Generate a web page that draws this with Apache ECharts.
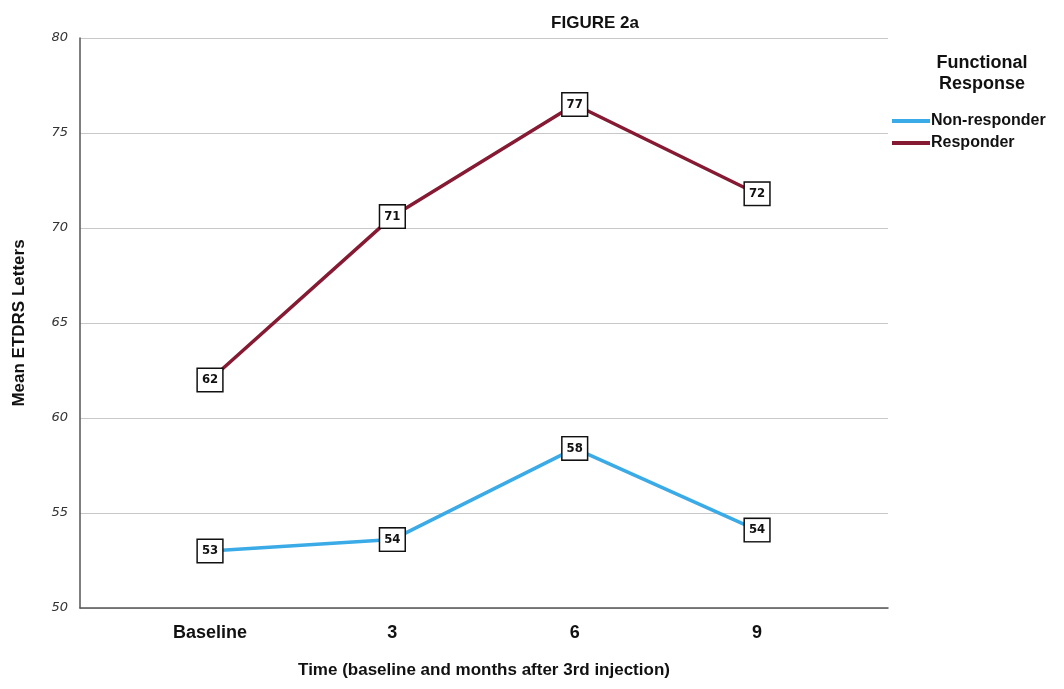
<!DOCTYPE html>
<html>
<head>
<meta charset="utf-8">
<script src="https://cdn.jsdelivr.net/npm/echarts@6/dist/echarts.min.js"></script>
<style>html,body{margin:0;padding:0;background:#fff}#c{width:1064px;height:689px}</style>
</head>
<body>
<div id="c"></div>
<script>
var categories = ['Baseline', '3', '6', '9'];
var nonResponder = [53.0, 53.6, 58.4, 54.1];
var responder = [62.0, 70.6, 76.5, 71.8];
var yTicks = [50, 55, 60, 65, 70, 75, 80];

function pts(arr) { return arr.map(function (v, i) { return [i, v]; }); }
var labelStyle = {
  show: true, position: 'inside',
  formatter: function (p) { return Math.round(p.value[1]); },
  backgroundColor: '#fff', borderColor: '#111', borderWidth: 1.5,
  padding: [5, 4, 4, 4], color: '#111', fontWeight: 'bold', fontSize: 13,
  fontFamily: 'DejaVu Sans Condensed, DejaVu Sans, sans-serif'
};
var chart = echarts.init(document.getElementById('c'));
chart.setOption({
  animation: false,
  title: [
    { text: 'FIGURE 2a', left: 590, top: 10, textAlign: 'center',
      textStyle: { fontSize: 17, fontWeight: 'bold', color: '#111', fontFamily: 'Liberation Sans, Arial, sans-serif' } },
    { text: 'Functional\nResponse', left: 977, top: 48, textAlign: 'center',
      textStyle: { fontSize: 18, fontWeight: 'bold', color: '#111', lineHeight: 21, fontFamily: 'Liberation Sans, Arial, sans-serif' } }
  ],
  legend: {
    orient: 'vertical', left: 887, top: 108, itemWidth: 38, itemHeight: 4, itemGap: 6,
    icon: 'rect',
    textStyle: { fontSize: 16, fontWeight: 'bold', color: '#111', padding: [0, 0, 0, -4], fontFamily: 'Liberation Sans, Arial, sans-serif' },
    data: ['Non-responder', 'Responder']
  },
  grid: { left: 80, right: 176, top: 38, bottom: 81 },
  xAxis: {
    type: 'value', min: -0.713, max: 3.718,
    name: 'Time (baseline and months after 3rd injection)', nameLocation: 'middle', nameGap: 54,
    nameTextStyle: { fontSize: 17, fontWeight: 'bold', color: '#111', fontFamily: 'Liberation Sans, Arial, sans-serif' },
    axisLine: { onZero: false, lineStyle: { color: '#555', width: 1.5 } },
    axisTick: { show: false },
    splitLine: { show: false },
    axisLabel: {
      customValues: [0, 1, 2, 3], margin: 16,
      formatter: function (v) { return categories[Math.round(v)]; },
      fontSize: 18, fontWeight: 'bold', color: '#111', fontFamily: 'Liberation Sans, Arial, sans-serif'
    }
  },
  yAxis: {
    type: 'value', min: 50, max: 80, interval: 5,
    name: 'Mean ETDRS Letters', nameLocation: 'middle', nameGap: 52, nameRotate: 90,
    nameTextStyle: { fontSize: 17, fontWeight: 'bold', color: '#111', fontFamily: 'Liberation Sans, Arial, sans-serif' },
    axisLine: { show: true, onZero: false, lineStyle: { color: '#555', width: 1.5 } },
    axisTick: { show: false },
    splitLine: { lineStyle: { color: '#c8c8c8', width: 1 } },
    axisLabel: {
      customValues: yTicks, margin: 12, fontSize: 13, color: '#333', fontStyle: 'italic',
      fontFamily: 'DejaVu Sans, sans-serif'
    }
  },
  series: [
    { name: 'Non-responder', type: 'line', data: pts(nonResponder), symbol: 'rect', symbolSize: 0, showSymbol: true,
      color: '#3aabe6', lineStyle: { width: 3.5 }, label: labelStyle, z: 3 },
    { name: 'Responder', type: 'line', data: pts(responder), symbol: 'rect', symbolSize: 0, showSymbol: true,
      color: '#861a33', lineStyle: { width: 3.5 }, label: labelStyle, z: 3 }
  ]
});
</script>
</body>
</html>
